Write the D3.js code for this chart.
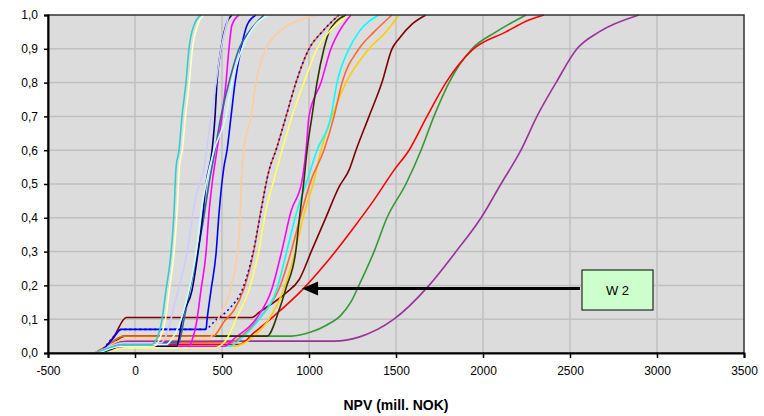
<!DOCTYPE html>
<html>
<head>
<meta charset="utf-8">
<script src="https://cdn.jsdelivr.net/npm/d3@7"></script>
<style>
  body { margin: 0; background: #fff; }
  svg { display: block; font-family: Arial, "Liberation Sans", sans-serif; }
</style>
</head>
<body>
<svg id="chart"></svg>
<script>
// tick values
const xTicks = [-500, 0, 500, 1000, 1500, 2000, 2500, 3000, 3500];
const yTicks = [0, 0.1, 0.2, 0.3, 0.4, 0.5, 0.6, 0.7, 0.8, 0.9, 1.0];

// cumulative curves, [NPV, probability]
const turquoise = [[-230,0],[-150,0.015],[-80,0.024],[92,0.024],[121,0.038],[155,0.098],[178,0.186],[207,0.296],[224,0.414],[236,0.55],[253,0.6],[270,0.7],[293,0.8],[310,0.9],[339,0.97],[379,1]];
const cream = [[-230,0],[-140,0.015],[-70,0.02],[110,0.02],[140,0.04],[175,0.1],[198,0.19],[225,0.3],[242,0.42],[255,0.55],[272,0.6],[290,0.7],[312,0.8],[330,0.9],[360,0.97],[395,1]];
const lavender = [[-220,0],[-140,0.02],[-60,0.03],[150,0.03],[185,0.06],[230,0.15],[300,0.3],[345,0.45],[397,0.55],[437,0.7],[466,0.8],[494,0.9],[520,0.96],[540,1]];
const lightCyan = [[-210,0],[-130,0.015],[-60,0.025],[180,0.025],[207,0.038],[264,0.098],[310,0.186],[351,0.296],[379,0.414],[454,0.6],[523,0.7],[557,0.8],[615,0.9],[690,0.97],[770,1]];
const navy = [[-200,0],[-130,0.012],[-90,0.02],[240,0.02],[255,0.05],[270,0.098],[328,0.186],[362,0.296],[391,0.414],[408,0.5],[443,0.6],[460,0.7],[471,0.8],[494,0.9],[523,0.97],[557,1]];
const slate = [[-210,0],[-120,0.02],[-60,0.03],[250,0.03],[282,0.1],[320,0.2],[360,0.3],[395,0.4],[425,0.5],[460,0.6],[494,0.7],[540,0.8],[598,0.9],[655,0.95],[741,1]];
const magentaL = [[-220,0],[-140,0.015],[-70,0.02],[310,0.02],[328,0.038],[356,0.098],[379,0.186],[408,0.296],[425,0.414],[443,0.5],[471,0.6],[500,0.7],[523,0.8],[540,0.9],[557,0.97],[598,1]];
const blueL = [[-200,0],[-130,0.04],[-80,0.07],[408,0.07],[414,0.098],[437,0.186],[466,0.296],[483,0.414],[511,0.55],[529,0.6],[552,0.7],[575,0.8],[609,0.9],[644,0.97],[695,1]];
const peach = [[-210,0],[-120,0.03],[-60,0.04],[425,0.04],[460,0.077],[483,0.107],[552,0.195],[598,0.343],[615,0.54],[626,0.6],[667,0.7],[695,0.8],[753,0.9],[828,0.95],[943,0.985],[1057,1]];
const orange = [[-220,0],[-140,0.03],[-63,0.05],[454,0.05],[471,0.06],[511,0.092],[569,0.127],[626,0.19],[684,0.305],[724,0.423],[770,0.54],[810,0.6],[868,0.7],[925,0.8],[1000,0.9],[1075,0.95],[1172,1]];
const blueDot = [[-200,0],[-120,0.05],[-80,0.07],[400,0.07],[470,0.1],[540,0.13],[626,0.2],[684,0.31],[724,0.42],[770,0.54],[810,0.6],[868,0.7],[925,0.8],[1000,0.9],[1075,0.95],[1172,1]];
const yellow = [[-190,0],[-110,0.01],[-50,0.015],[454,0.015],[523,0.038],[586,0.107],[655,0.186],[713,0.305],[753,0.423],[799,0.513],[845,0.6],[902,0.7],[971,0.8],[1046,0.9],[1115,0.95],[1230,1]];
const magentaR = [[-200,0],[-120,0.015],[-60,0.02],[511,0.02],[580,0.047],[695,0.1],[787,0.19],[845,0.305],[897,0.42],[960,0.51],[983,0.6],[1000,0.7],[1069,0.8],[1126,0.9],[1172,0.95],[1241,1]];
const cyan = [[-200,0],[-120,0.015],[-60,0.02],[540,0.02],[626,0.05],[713,0.1],[816,0.19],[874,0.305],[931,0.42],[989,0.51],[1046,0.6],[1126,0.7],[1161,0.8],[1230,0.9],[1287,0.95],[1402,1]];
const orangeRed = [[-210,0],[-130,0.02],[-60,0.03],[540,0.03],[655,0.07],[741,0.12],[828,0.19],[897,0.3],[954,0.41],[1011,0.51],[1086,0.6],[1144,0.7],[1190,0.8],[1287,0.9],[1374,0.95],[1477,1]];
const gold = [[-190,0],[-110,0.015],[-50,0.02],[569,0.02],[684,0.05],[770,0.1],[856,0.19],[920,0.3],[971,0.41],[1029,0.51],[1069,0.6],[1132,0.7],[1213,0.8],[1345,0.9],[1442,0.95],[1517,1]];
const olive = [[-200,0],[-100,0.04],[-60,0.05],[759,0.05],[828,0.127],[868,0.192],[925,0.305],[943,0.39],[971,0.51],[989,0.6],[1017,0.7],[1046,0.8],[1086,0.9],[1115,0.95],[1155,0.98],[1213,1]];
const maroon = [[-200,0],[-120,0.05],[-50,0.105],[672,0.105],[713,0.12],[868,0.178],[942,0.216],[1017,0.305],[1098,0.402],[1172,0.491],[1230,0.541],[1270,0.6],[1345,0.7],[1419,0.8],[1477,0.9],[1517,0.93],[1592,0.973],[1672,1]];
const red = [[-210,0],[-130,0.015],[-60,0.025],[598,0.025],[684,0.06],[800,0.11],[960,0.186],[1098,0.266],[1247,0.364],[1374,0.453],[1489,0.541],[1575,0.6],[1678,0.7],[1787,0.8],[1937,0.896],[2132,0.95],[2264,0.985],[2350,1]];
const green = [[-200,0],[-110,0.04],[-60,0.05],[897,0.05],[1011,0.062],[1103,0.083],[1184,0.112],[1241,0.151],[1287,0.2],[1374,0.3],[1448,0.4],[1557,0.5],[1644,0.6],[1718,0.7],[1805,0.8],[1937,0.9],[2075,0.95],[2247,1]];
const purple = [[-230,0],[-140,0.025],[-40,0.035],[1144,0.035],[1287,0.047],[1488,0.1],[1690,0.2],[1845,0.3],[1989,0.4],[2103,0.5],[2218,0.6],[2310,0.7],[2420,0.8],[2540,0.9],[2667,0.95],[2896,1]];

// annotation
const noteLabel = "W 2";
const noteTarget = [960, 0.2];

const series = [
  { pts: purple, color: "#993399" },
  { pts: green, color: "#339933" },
  { pts: red, color: "#ff0000" },
  { pts: maroon, color: "#800000" },
  { pts: gold, color: "#ffcc00" },
  { pts: orangeRed, color: "#ff6633" },
  { pts: cyan, color: "#00ffff" },
  { pts: magentaR, color: "#ff00ff" },
  { pts: olive, color: "#333300" },
  { pts: yellow, color: "#ffff66" },
  { pts: orange, color: "#ff6600" },
  { pts: blueDot, color: "#0000ff", dash: "2,3" },
  { pts: peach, color: "#ffcc99" },
  { pts: blueL, color: "#0000ff" },
  { pts: magentaL, color: "#ff00ff" },
  { pts: slate, color: "#336699" },
  { pts: navy, color: "#000080" },
  { pts: lightCyan, color: "#ccffff" },
  { pts: lavender, color: "#ccccff" },
  { pts: cream, color: "#ffffcc" },
  { pts: turquoise, color: "#33cccc" }
];

const width = 764, height = 416;
const margin = { top: 15, right: 20, bottom: 63, left: 48 };
const w = width - margin.left - margin.right;
const h = height - margin.top - margin.bottom;

const svg = d3.select("#chart").attr("width", width).attr("height", height);
const g = svg.append("g").attr("transform", `translate(${margin.left},${margin.top})`);

const x = d3.scaleLinear().domain([-500, 3500]).range([0, w]);
const y = d3.scaleLinear().domain([0, 1]).range([h, 0]);

// plot background
g.append("rect").attr("width", w).attr("height", h).attr("fill", "#dcdcdc");

// grid
g.selectAll(".gx").data(xTicks.slice(1, -1)).enter().append("line")
  .attr("x1", d => x(d)).attr("x2", d => x(d)).attr("y1", 0).attr("y2", h)
  .attr("stroke", "#c0c0c0").attr("stroke-width", 1.5);
g.selectAll(".gy").data(yTicks.slice(1, -1)).enter().append("line")
  .attr("x1", 0).attr("x2", w).attr("y1", d => y(d)).attr("y2", d => y(d))
  .attr("stroke", "#c0c0c0").attr("stroke-width", 1.5);

// curves
const line = d3.line().x(d => x(d[0])).y(d => y(d[1])).curve(d3.curveMonotoneX);
series.forEach(s => {
  g.append("path")
    .attr("d", line(s.pts))
    .attr("fill", "none")
    .attr("stroke", s.color)
    .attr("stroke-width", 1.6)
    .attr("stroke-dasharray", s.dash || null);
});

// frame
g.append("rect").attr("width", w).attr("height", h)
  .attr("fill", "none").attr("stroke", "#333").attr("stroke-width", 1.5);

// axes
const xAxis = g.append("g").attr("transform", `translate(0,${h})`)
  .call(d3.axisBottom(x).tickValues(xTicks).tickSize(5).tickPadding(8).tickFormat(d => String(d)));
const yAxis = g.append("g")
  .call(d3.axisLeft(y).tickValues(yTicks).tickSize(4).tickPadding(6)
    .tickFormat(d => d.toFixed(1).replace(".", ",")));
[xAxis, yAxis].forEach(a => {
  a.select(".domain").attr("stroke", "#000").attr("stroke-width", 2);
  a.selectAll(".tick line").attr("stroke", "#000").attr("stroke-width", 1.5);
  a.selectAll(".tick text").attr("fill", "#000").style("font-size", "12px")
    .style("font-family", "Arial, 'Liberation Sans', sans-serif");
});

// x title
svg.append("text")
  .attr("x", margin.left + w / 2)
  .attr("y", 410)
  .attr("text-anchor", "middle")
  .style("font-size", "14px")
  .style("font-weight", "bold")
  .text("NPV (mill. NOK)");

// annotation box with arrow
const ty = y(noteTarget[1]) + margin.top;
const tx = x(noteTarget[0]) + margin.left;
const box = { x: 582, y: 270, w: 71, h: 40 };
svg.append("line")
  .attr("x1", box.x - 2).attr("x2", tx + 14)
  .attr("y1", ty + 3).attr("y2", ty + 3)
  .attr("stroke", "#000").attr("stroke-width", 3);
svg.append("path")
  .attr("d", `M${tx},${ty + 3}L${tx + 16},${ty - 4}L${tx + 16},${ty + 10}Z`)
  .attr("fill", "#000");
svg.append("rect")
  .attr("x", box.x).attr("y", box.y).attr("width", box.w).attr("height", box.h)
  .attr("fill", "#ccffcc").attr("stroke", "#000").attr("stroke-width", 1);
svg.append("text")
  .attr("x", box.x + box.w / 2).attr("y", box.y + box.h / 2 + 5)
  .attr("text-anchor", "middle")
  .style("font-size", "13px")
  .text(noteLabel);
</script>
</body>
</html>
